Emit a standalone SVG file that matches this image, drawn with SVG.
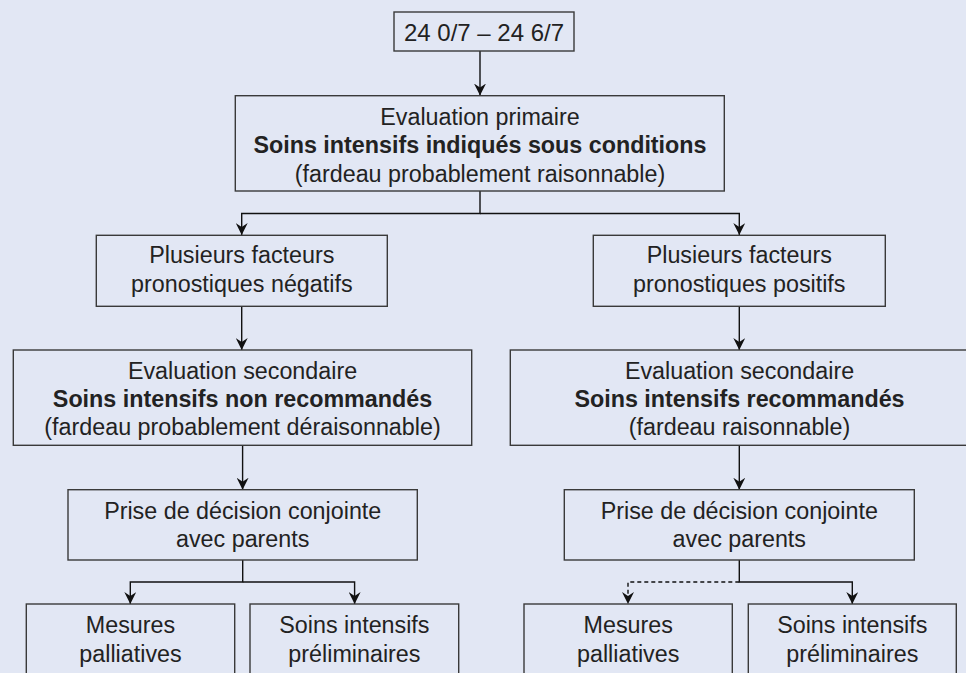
<svg xmlns="http://www.w3.org/2000/svg" width="966" height="673" viewBox="0 0 966 673">
<defs>
<marker id="arr" viewBox="0 0 12 12" markerWidth="12" markerHeight="12" refX="12" refY="6" orient="auto" markerUnits="userSpaceOnUse">
<path d="M0,0 L12,6 L0,12 L4,6 z" fill="#111"/>
</marker>
<style>
.bx{fill:#e2e7f4;stroke:#3a3a3a;stroke-width:1.4}
.t{font-family:"Liberation Sans",Arial,sans-serif;font-size:23.3px;fill:#222;text-anchor:middle}
.b{font-weight:bold}
.c{fill:none;stroke:#111;stroke-width:1.4}
.d{stroke-dasharray:4,3}
</style>
</defs>
<rect x="0" y="0" width="966" height="673" fill="#e2e7f4"/>
<g id="connectors">
<path class="c" d="M480,51 V95.5" marker-end="url(#arr)"/>
<path class="c" d="M480,191 V213.5 H241.7 V235" marker-end="url(#arr)"/>
<path class="c" d="M480,213.5 H739.3 V235" marker-end="url(#arr)"/>
<path class="c" d="M241.7,306.3 V350" marker-end="url(#arr)"/>
<path class="c" d="M739.3,306.3 V350" marker-end="url(#arr)"/>
<path class="c" d="M242.6,445.3 V489.7" marker-end="url(#arr)"/>
<path class="c" d="M739.3,445.3 V489.7" marker-end="url(#arr)"/>
<path class="c" d="M242.7,560 V582 H130.3 V604" marker-end="url(#arr)"/>
<path class="c" d="M242.7,582 H354.6 V604" marker-end="url(#arr)"/>
<path class="c d" d="M739.3,582 H628 V604" marker-end="url(#arr)"/>
<path class="c" d="M739.3,560 V582 H852.3 V604" marker-end="url(#arr)"/>
</g>
<g id="n_top">
<rect class="bx" x="394" y="12" width="180" height="39"/>
<text class="t" x="484" y="40.7" style="font-size:24px">24 0/7 – 24 6/7</text>
</g>
<g id="n_primaire">
<rect class="bx" x="235.3" y="95.7" width="489" height="95.3"/>
<text class="t" x="480" y="125.3">Evaluation primaire</text>
<text class="t b" x="480" y="153.3">Soins intensifs indiqués sous conditions</text>
<text class="t" x="480" y="181.7">(fardeau probablement raisonnable)</text>
</g>
<g id="n_neg">
<rect class="bx" x="96.3" y="235.3" width="291" height="71"/>
<text class="t" x="241.8" y="263.3">Plusieurs facteurs</text>
<text class="t" x="241.8" y="291.7">pronostiques négatifs</text>
</g>
<g id="n_pos">
<rect class="bx" x="593.3" y="235.3" width="292" height="71"/>
<text class="t" x="739.3" y="263.3">Plusieurs facteurs</text>
<text class="t" x="739.3" y="291.7">pronostiques positifs</text>
</g>
<g id="n_sec_left">
<rect class="bx" x="13.3" y="350" width="458.4" height="95.3"/>
<text class="t" x="242.5" y="379">Evaluation secondaire</text>
<text class="t b" x="242.5" y="406.7">Soins intensifs non recommandés</text>
<text class="t" x="242.5" y="434.7">(fardeau probablement déraisonnable)</text>
</g>
<g id="n_sec_right">
<rect class="bx" x="510.3" y="350" width="470" height="95.3"/>
<text class="t" x="739.5" y="379">Evaluation secondaire</text>
<text class="t b" x="739.5" y="406.7">Soins intensifs recommandés</text>
<text class="t" x="739.5" y="434.7">(fardeau raisonnable)</text>
</g>
<g id="n_dec_left">
<rect class="bx" x="68" y="489.7" width="349.3" height="70.3"/>
<text class="t" x="242.7" y="519">Prise de décision conjointe</text>
<text class="t" x="242.7" y="547.3">avec parents</text>
</g>
<g id="n_dec_right">
<rect class="bx" x="564.3" y="489.7" width="350" height="70.3"/>
<text class="t" x="739.3" y="519">Prise de décision conjointe</text>
<text class="t" x="739.3" y="547.3">avec parents</text>
</g>
<g id="n_pal_left">
<rect class="bx" x="26.3" y="604" width="208.4" height="90"/>
<text class="t" x="130.5" y="632.7">Mesures</text>
<text class="t" x="130.5" y="661.7">palliatives</text>
</g>
<g id="n_si_left">
<rect class="bx" x="250" y="604" width="208.7" height="90"/>
<text class="t" x="354.4" y="632.7">Soins intensifs</text>
<text class="t" x="354.4" y="661.7">préliminaires</text>
</g>
<g id="n_pal_right">
<rect class="bx" x="524" y="604" width="208.3" height="90"/>
<text class="t" x="628.2" y="632.7">Mesures</text>
<text class="t" x="628.2" y="661.7">palliatives</text>
</g>
<g id="n_si_right">
<rect class="bx" x="748.3" y="604" width="208" height="90"/>
<text class="t" x="852.3" y="632.7">Soins intensifs</text>
<text class="t" x="852.3" y="661.7">préliminaires</text>
</g>
</svg>
